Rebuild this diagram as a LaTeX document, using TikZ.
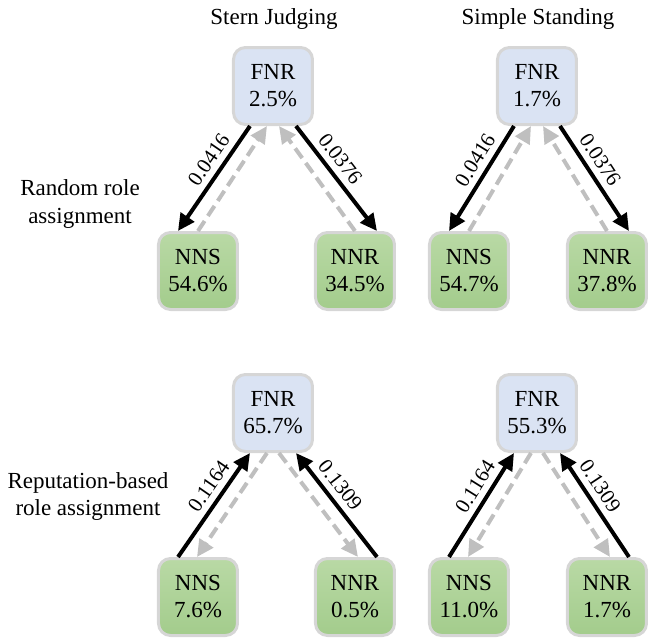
\documentclass[tikz,border=0pt]{standalone}
\usepackage{fontspec}
\setmainfont{Liberation Serif}
\usetikzlibrary{arrows.meta,calc}

\definecolor{fnrblue}{RGB}{218,227,243}
\definecolor{nntop}{RGB}{185,217,165}
\definecolor{nnbot}{RGB}{163,204,140}
\definecolor{boxline}{RGB}{214,214,214}
\definecolor{backgray}{RGB}{191,191,191}

\tikzset{
  statebox/.style={draw=boxline,line width=1.5pt,rounded corners=6pt,minimum width=39.5pt,
                   minimum height=38.5pt,inner sep=0pt,align=center,font=\fontsize{11.5}{13.5}\selectfont},
  fnrbox/.style={statebox,fill=fnrblue},
  nnbox/.style={statebox,top color=nntop,bottom color=nnbot},
  rate/.style={line width=2pt,-{Triangle[length=8.5pt,width=8pt]}},
  backrate/.style={line width=2pt,backgray,dash pattern=on 6pt off 3pt,-{Triangle[length=8.5pt,width=8pt]}},
  ratelabel/.style={sloped,above,inner sep=3pt,font=\fontsize{10.5}{12}\selectfont},
  heading/.style={align=center,font=\fontsize{11.5}{13.5}\selectfont}
}

\begin{document}
\begin{tikzpicture}[x=0.5pt,y=-0.5pt]
\useasboundingbox (0,0) rectangle (650,643);
%% headings
\node[heading] (sjhead) at (274,19) {Stern Judging};
\node[heading] (sshead) at (538,19) {Simple Standing};
\node[heading] (randlab) at (80,204) {Random role\\assignment};
\node[heading] (replab) at (88,497) {Reputation-based\\role assignment};

%% random role assignment
\node[fnrbox] (fnr1) at (273,86) {FNR\\2.5\%};
\node[nnbox] (nns1) at (198,271) {NNS\\54.6\%};
\node[nnbox] (nnr1) at (355,271) {NNR\\34.5\%};
\node[fnrbox] (fnr2) at (537,86) {FNR\\1.7\%};
\node[nnbox] (nns2) at (469,271) {NNS\\54.7\%};
\node[nnbox] (nnr2) at (607,271) {NNR\\37.8\%};

%% reputation-based role assignment
\node[fnrbox] (fnr3) at (273,413) {FNR\\65.7\%};
\node[nnbox] (nns3) at (198,597) {NNS\\7.6\%};
\node[nnbox] (nnr3) at (355,597) {NNR\\0.5\%};
\node[fnrbox] (fnr4) at (537,413) {FNR\\55.3\%};
\node[nnbox] (nns4) at (469,597) {NNS\\11.0\%};
\node[nnbox] (nnr4) at (607,597) {NNR\\1.7\%};

%% transitions
\foreach \i in {1,2}{
  \draw[backrate] (nns\i.north) -- ($(fnr\i.south)+(-6,0)$);
  \draw[backrate] (nnr\i.north) -- ($(fnr\i.south)+(6,0)$);
  \draw[rate] ($(fnr\i.south)+(-23,0)$) -- node[ratelabel,pos=0.4] {0.0416} ($(nns\i.north)+(-20,0)$);
  \draw[rate] ($(fnr\i.south)+(23,0)$) -- node[ratelabel,pos=0.4] {0.0376} ($(nnr\i.north)+(22,0)$);
}
\foreach \i in {3,4}{
  \draw[backrate] ($(fnr\i.south)+(-6,0)$) -- ($(nns\i.north)+(-1,0)$);
  \draw[backrate] ($(fnr\i.south)+(6,0)$) -- ($(nnr\i.north)+(3,0)$);
  \draw[rate] ($(nns\i.north)+(-20,0)$) -- node[ratelabel,pos=0.6] {0.1164} ($(fnr\i.south)+(-23,0)$);
  \draw[rate] ($(nnr\i.north)+(22,0)$) -- node[ratelabel,pos=0.6] {0.1309} ($(fnr\i.south)+(23,0)$);
}
\end{tikzpicture}
\end{document}
